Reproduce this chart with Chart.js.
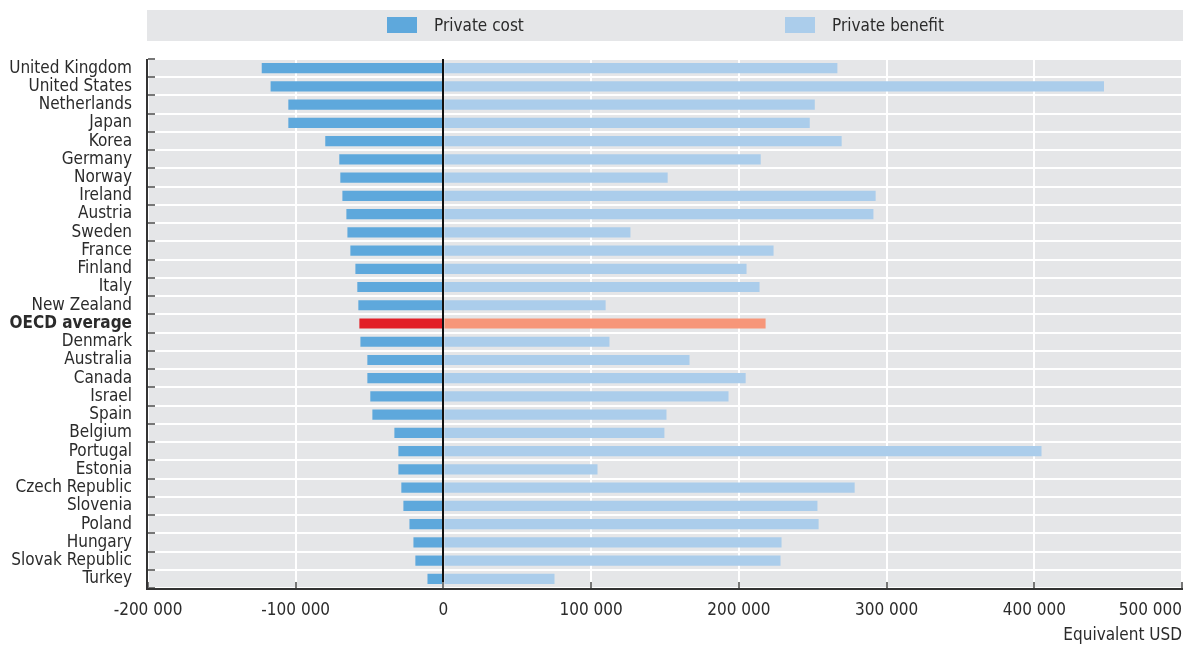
<!DOCTYPE html>
<html>
<head>
<meta charset="utf-8">
<script src="https://cdn.jsdelivr.net/npm/chart.js@4/dist/chart.umd.min.js"></script>
<style>
html, body { margin: 0; padding: 0; background: #fff; }
</style>
</head>
<body>
<canvas id="chart" width="1191" height="647"></canvas>
<script>
// data (equivalent USD)
var categories = ["United Kingdom", "United States", "Netherlands", "Japan", "Korea", "Germany", "Norway",
  "Ireland", "Austria", "Sweden", "France", "Finland", "Italy", "New Zealand", "OECD average", "Denmark",
  "Australia", "Canada", "Israel", "Spain", "Belgium", "Portugal", "Estonia", "Czech Republic", "Slovenia",
  "Poland", "Hungary", "Slovak Republic", "Turkey"];

var privateCost = [-123000, -117000, -105000, -105000, -80000, -70500, -69800, -68400, -65700, -65000,
  -63000, -59600, -58300, -57600, -56900, -56200, -51500, -51500, -49500, -48100, -33200, -30500, -30500,
  -28500, -27100, -23000, -20300, -19000, -10800];

var privateBenefit = [266700, 447200, 251400, 248000, 269600, 214800, 151800, 292600, 291100, 126600,
  223500, 205200, 214000, 109800, 218100, 112400, 166600, 204600, 193000, 151000, 149600, 404900, 104300,
  278400, 253200, 254000, 228900, 228200, 75200];

var xTicks = [-200000, -100000, 0, 100000, 200000, 300000, 400000, 500000];
var seriesNames = ["Private cost", "Private benefit"];
var highlight = "OECD average";

var FONT = '"Liberation Sans Narrow", "DejaVu Sans Condensed", sans-serif';
var TEXT = "#2b2b2b";
var SIZE = 17;

var costColors = categories.map(c => c === highlight ? "#e21d26" : "#5ea8dc");
var benefitColors = categories.map(c => c === highlight ? "#f79679" : "#abcdeb");

function fmt(v) {
  var s = String(Math.abs(v)).replace(/\B(?=(\d{3})+(?!\d))/g, " ");
  return (v < 0 ? "-" : "") + s;
}

// background, legend box, axis lines, ticks and x labels
var decor = {
  id: "decor",
  beforeDraw(chart) {
    var ctx = chart.ctx, a = chart.chartArea;
    ctx.save();
    ctx.fillStyle = "#e5e6e8";
    ctx.fillRect(a.left, a.top, a.right - a.left + 1, a.bottom - a.top);
    // legend strip
    ctx.fillRect(a.left - 1, 10, a.right - a.left + 2, 31);
    var items = [
      { x: a.left + 239, color: "#5ea8dc", text: seriesNames[0] },
      { x: a.left + 637, color: "#abcdeb", text: seriesNames[1] }
    ];
    ctx.font = SIZE + "px " + FONT;
    ctx.textBaseline = "middle";
    ctx.textAlign = "left";
    items.forEach(it => {
      ctx.fillStyle = it.color;
      ctx.fillRect(it.x, 17, 30, 16);
      ctx.fillStyle = TEXT;
      ctx.fillText(it.text, it.x + 47, 26.5);
    });
    ctx.restore();
  },
  afterDatasetsDraw(chart) {
    var ctx = chart.ctx, a = chart.chartArea;
    var xs = chart.scales.x, ys = chart.scales.y;
    ctx.save();
    // zero line
    var x0 = Math.round(xs.getPixelForValue(0));
    ctx.fillStyle = "#111";
    ctx.fillRect(x0 - 1, a.top, 2, a.bottom - a.top);
    // left ticks at row boundaries
    ctx.fillStyle = "#777";
    for (var i = 0; i <= categories.length; i++) {
      var y = Math.round(ys.getPixelForValue(i - 0.5));
      ctx.fillRect(a.left, y - 1, 7, 2);
    }
    // bottom ticks
    xTicks.forEach(v => {
      var px = Math.round(xs.getPixelForValue(v));
      ctx.fillRect(px - 1, a.bottom - 6, 2, 6);
    });
    // axis lines
    ctx.fillStyle = "#333";
    ctx.fillRect(a.left - 2, a.top, 2, a.bottom - a.top + 2);
    ctx.fillRect(a.left - 2, a.bottom, a.right - a.left + 3, 2);
    // x labels
    ctx.font = SIZE + "px " + FONT;
    ctx.fillStyle = TEXT;
    ctx.textBaseline = "middle";
    ctx.textAlign = "center";
    xTicks.forEach(v => {
      var t = fmt(v);
      var w = ctx.measureText(t).width;
      var px = xs.getPixelForValue(v);
      if (px + w / 2 > a.right) px = a.right - w / 2;
      ctx.fillText(t, px, 611);
    });
    ctx.restore();
  }
};

new Chart(document.getElementById("chart"), {
  type: "bar",
  data: {
    labels: categories,
    datasets: [
      { label: seriesNames[0], data: privateCost, backgroundColor: costColors },
      { label: seriesNames[1], data: privateBenefit, backgroundColor: benefitColors }
    ]
  },
  options: {
    indexAxis: "y",
    responsive: false,
    animation: false,
    barPercentage: 0.56,
    categoryPercentage: 1,
    layout: { padding: { top: 59, right: 9, left: 0, bottom: 0 } },
    plugins: { legend: { display: false }, tooltip: { enabled: false } },
    scales: {
      x: {
        stacked: true,
        min: -200000,
        max: 500000,
        ticks: { stepSize: 100000, display: false },
        grid: { color: "#fff", lineWidth: 2, drawTicks: false },
        border: { display: false },
        title: {
          display: true, text: "Equivalent USD", align: "end",
          color: TEXT, font: { family: FONT, size: SIZE }, padding: { top: 0, bottom: 1 }
        },
        afterFit(s) { s.height = 59; }
      },
      y: {
        stacked: true,
        grid: { color: "#fff", lineWidth: 2, drawTicks: false, offset: true },
        border: { display: false },
        ticks: {
          autoSkip: false,
          padding: 16,
          color: TEXT,
          font: ctx => ({
            family: FONT, size: SIZE,
            weight: categories[ctx.index] === highlight ? "bold" : "normal"
          })
        },
        afterFit(s) { s.width = 148; }
      }
    }
  },
  plugins: [decor]
});
</script>
</body>
</html>
